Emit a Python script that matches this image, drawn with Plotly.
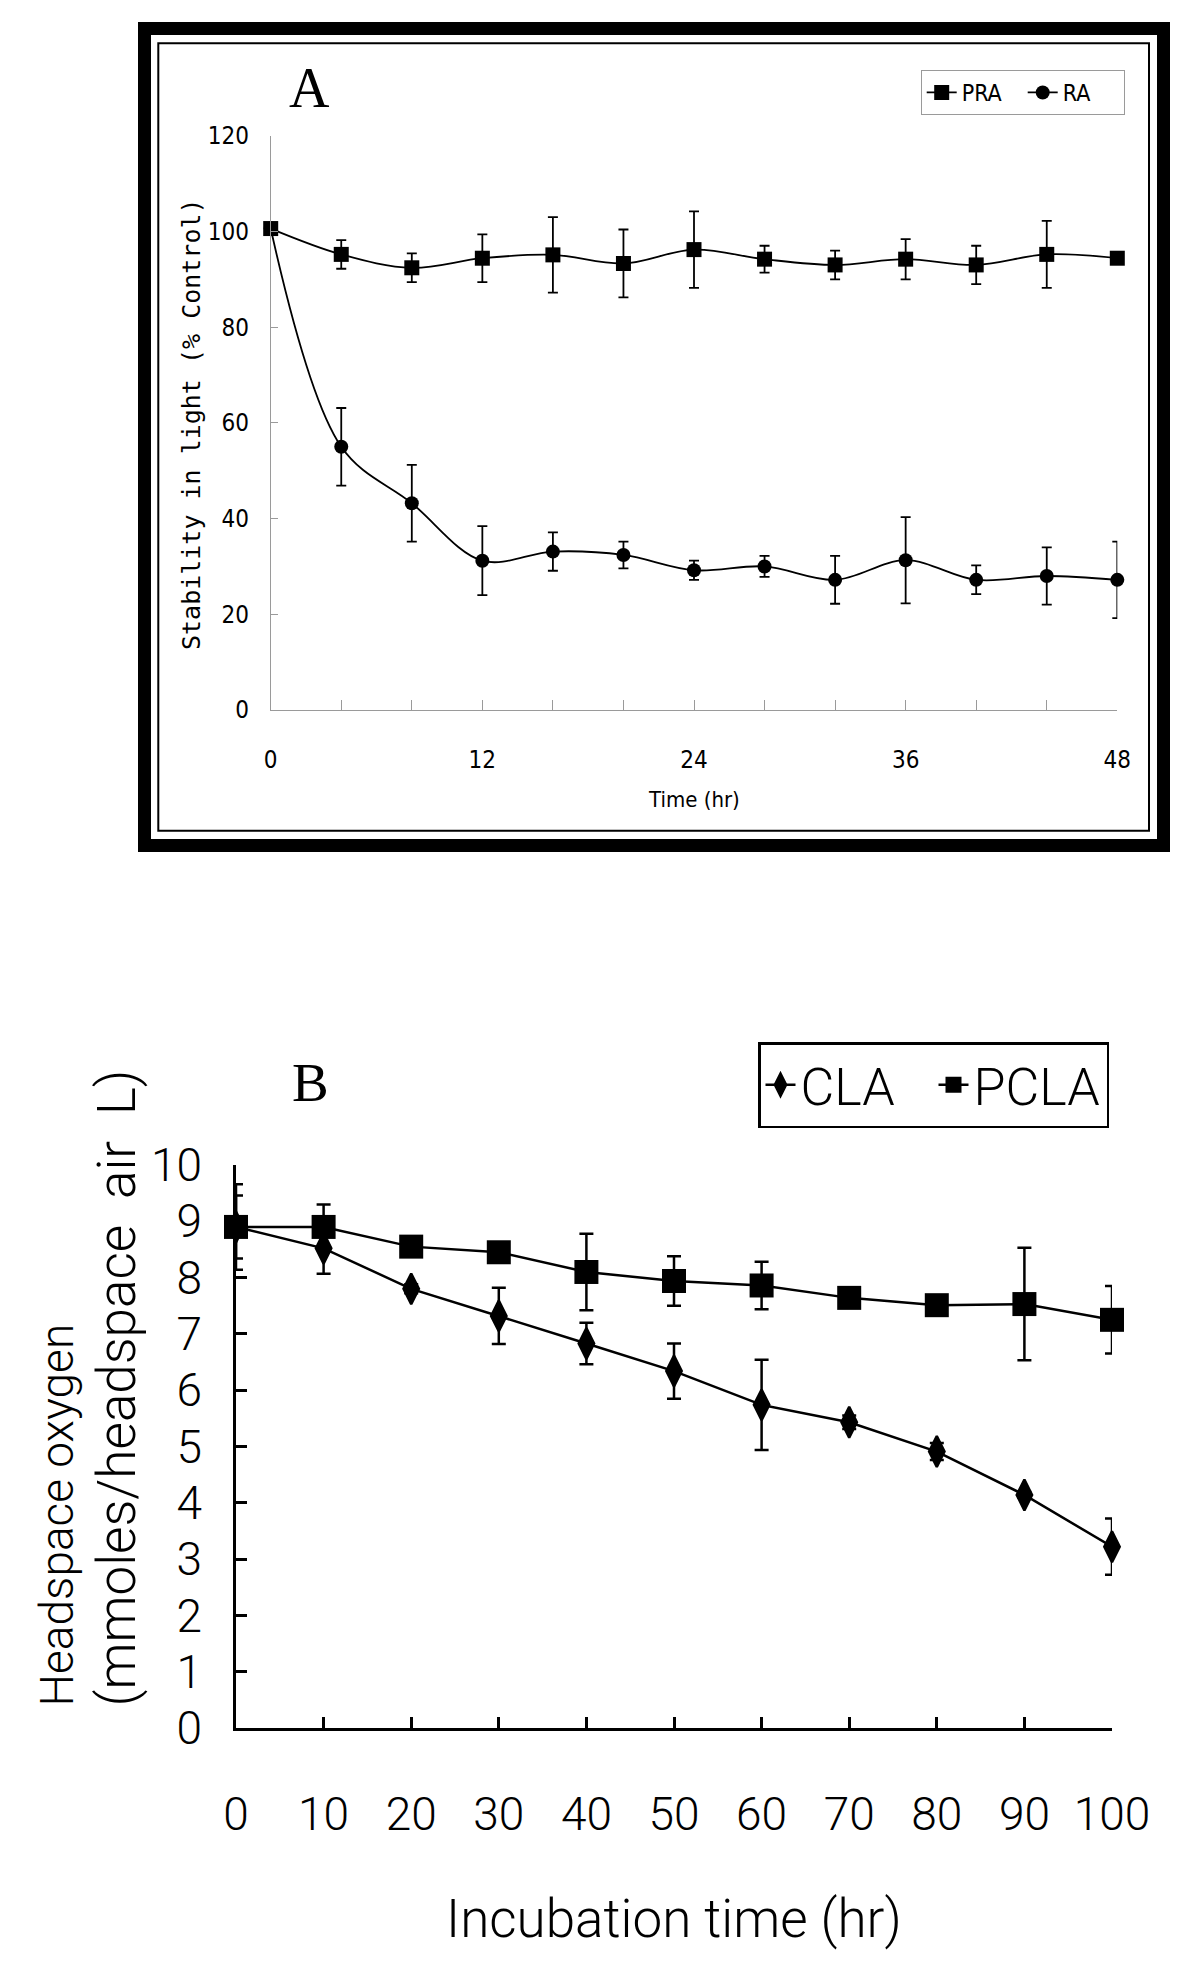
import plotly.graph_objects as go

# ---------------- data: panel A ----------------
time_a = [0, 4, 8, 12, 16, 20, 24, 28, 32, 36, 40, 44, 48]
pra = [100.6, 95.2, 92.4, 94.4, 95.1, 93.3, 96.2, 94.2, 93.0, 94.2, 93.0, 95.2, 94.4]
pra_err = [0.5, 3.0, 3.0, 5.0, 7.9, 7.1, 8.0, 2.8, 3.0, 4.2, 4.0, 7.0, 0.5]
ra = [100.6, 55.0, 43.2, 31.2, 33.1, 32.4, 29.2, 30.0, 27.2, 31.3, 27.2, 28.0, 27.2]
ra_err = [0.0, 8.1, 8.0, 7.2, 4.0, 2.8, 2.0, 2.2, 5.0, 9.0, 3.0, 6.0, 8.0]
a_xticks = [0, 12, 24, 36, 48]

# ---------------- data: panel B ----------------
time_b = [0, 10, 20, 30, 40, 50, 60, 70, 80, 90, 100]
cla = [8.9, 8.52, 7.8, 7.32, 6.83, 6.34, 5.74, 5.43, 4.91, 4.14, 3.22]
cla_err = [0.56, 0.45, 0.08, 0.5, 0.37, 0.49, 0.8, 0.12, 0.15, 0.05, 0.5]
pcla = [8.9, 8.9, 8.55, 8.45, 8.1, 7.94, 7.86, 7.64, 7.51, 7.53, 7.25]
pcla_err = [0.76, 0.4, 0.05, 0.05, 0.68, 0.44, 0.42, 0.1, 0.05, 1.0, 0.6]

W, H = 1200, 1985
def px(x):
    return x / W
def py(y):
    return 1 - y / H

CONDENSED = "DejaVu Sans Condensed, Liberation Sans, sans-serif"
LIGHT = "Roboto, Liberation Sans, sans-serif"
MONO = "DejaVu Sans Mono, Liberation Mono, monospace"
SERIF = "Liberation Serif, Times New Roman, serif"
GRAY = "#9a9a9a"

fig = go.Figure()

fig.add_trace(go.Scatter(
    x=time_a, y=pra, name="PRA", mode="lines+markers",
    line=dict(shape="spline", color="black", width=1.8),
    marker=dict(symbol="square", size=15, color="black"),
    error_y=dict(type="data", array=pra_err, color="black", thickness=1.8, width=5),
    xaxis="x", yaxis="y", legend="legend", cliponaxis=False))
fig.add_trace(go.Scatter(
    x=time_a, y=ra, name="RA", mode="lines+markers",
    line=dict(shape="spline", color="black", width=1.8),
    marker=dict(symbol="circle", size=14, color="black"),
    error_y=dict(type="data", array=ra_err, color="black", thickness=1.8, width=5),
    xaxis="x", yaxis="y", legend="legend", cliponaxis=False))

fig.add_trace(go.Scatter(
    x=time_b, y=cla, name="CLA", mode="lines+markers",
    line=dict(color="black", width=2.5),
    marker=dict(symbol="diamond-tall", size=22, color="black", line=dict(color="black", width=2.5)),
    error_y=dict(type="data", array=cla_err, color="black", thickness=2.5, width=7),
    xaxis="x2", yaxis="y2", legend="legend2", cliponaxis=False))
fig.add_trace(go.Scatter(
    x=time_b, y=pcla, name="PCLA", mode="lines+markers",
    line=dict(color="black", width=2.5),
    marker=dict(symbol="square", size=24, color="black"),
    error_y=dict(type="data", array=pcla_err, color="black", thickness=2.5, width=7),
    xaxis="x2", yaxis="y2", legend="legend2", cliponaxis=False))

fig.update_layout(
    width=W, height=H, autosize=False,
    margin=dict(l=0, r=0, t=0, b=0, pad=0, autoexpand=False),
    paper_bgcolor="white", plot_bgcolor="white",
    xaxis=dict(domain=[px(270.7), px(1117.3)], range=[0, 48], anchor="y", automargin=False,
               showline=True, linecolor=GRAY, linewidth=1, mirror=False,
               ticks="inside", ticklen=10, tickcolor=GRAY, tickwidth=1,
               tickmode="array", tickvals=a_xticks,
               minor=dict(ticks="inside", ticklen=10, tickcolor=GRAY, tickwidth=1, dtick=4, tick0=0),
               showgrid=False, zeroline=False,
               tickfont=dict(family=CONDENSED, size=24, color="black"),
               ticklabelstandoff=28),
    yaxis=dict(domain=[py(710), py(135.7)], range=[0, 120], anchor="x", automargin=False,
               showline=True, linecolor=GRAY, linewidth=1,
               ticks="inside", ticklen=7, tickcolor=GRAY, tickwidth=1,
               dtick=20, tick0=0, showgrid=False, zeroline=False,
               tickfont=dict(family=CONDENSED, size=24, color="black"),
               ticklabelstandoff=16),
    xaxis2=dict(domain=[px(236), px(1112)], range=[0, 100], anchor="y2", automargin=False,
                showline=True, linecolor="black", linewidth=2.5,
                ticks="inside", ticklen=11, tickcolor="black", tickwidth=2.5,
                dtick=10, tick0=0, showgrid=False, zeroline=False,
                tickfont=dict(family=LIGHT, size=46, color="black", weight=300),
                ticklabelstandoff=44),
    yaxis2=dict(domain=[py(1728), py(1165)], range=[0, 10], anchor="x2", automargin=False,
                showline=True, linecolor="black", linewidth=2.5,
                ticks="inside", ticklen=11, tickcolor="black", tickwidth=2.5,
                dtick=1, tick0=0, showgrid=False, zeroline=False,
                tickfont=dict(family=LIGHT, size=46, color="black", weight=300),
                ticklabelstandoff=22),
    legend=dict(orientation="h", x=px(920.7), y=py(70), xanchor="left", yanchor="top",
                bgcolor="white", bordercolor=GRAY, borderwidth=1,
                font=dict(family=CONDENSED, size=23, color="black"),
                itemsizing="trace", entrywidth=56, entrywidthmode="pixels"),
    legend2=dict(orientation="h", x=px(758), y=py(1042), xanchor="left", yanchor="top",
                 bgcolor="white", bordercolor="black", borderwidth=2.5,
                 font=dict(family=LIGHT, size=52, color="black", weight=300),
                 itemsizing="trace", entrywidth=128, entrywidthmode="pixels"),
    showlegend=True,
)

shapes = [
    dict(type="rect", xref="paper", yref="paper",
         x0=px(144.5), x1=px(1163.5), y0=py(845.5), y1=py(28.5),
         line=dict(color="black", width=13), fillcolor="rgba(0,0,0,0)", layer="above"),
    dict(type="rect", xref="paper", yref="paper",
         x0=px(158.3), x1=px(1149), y0=py(830.7), y1=py(43.3),
         line=dict(color="black", width=2), fillcolor="rgba(0,0,0,0)", layer="above"),
]
fig.update_layout(shapes=shapes)

annotations = [
    dict(text="A", x=px(309.5), y=py(87.5), xref="paper", yref="paper",
         xanchor="center", yanchor="middle", showarrow=False,
         font=dict(family=SERIF, size=56, color="black")),
    dict(text="Time (hr)", x=px(694), y=py(800), xref="paper", yref="paper",
         xanchor="center", yanchor="middle", showarrow=False,
         font=dict(family=CONDENSED, size=22, color="black")),
    dict(text="Stability in light (% Control)", x=px(192), y=py(424), xref="paper", yref="paper",
         xanchor="center", yanchor="middle", showarrow=False, textangle=-90,
         font=dict(family=MONO, size=25, color="black")),
    dict(text="B", x=px(310), y=py(1082), xref="paper", yref="paper",
         xanchor="center", yanchor="middle", showarrow=False,
         font=dict(family=SERIF, size=55, color="black")),
    dict(text="Incubation time (hr)", x=px(674), y=py(1919), xref="paper", yref="paper",
         xanchor="center", yanchor="middle", showarrow=False,
         font=dict(family=LIGHT, size=53, color="black", weight=300)),
    dict(text="Headspace oxygen", x=px(56), y=py(1709), xref="paper", yref="paper",
         xanchor="center", yanchor="bottom", showarrow=False, textangle=-90,
         font=dict(family=LIGHT, size=46, color="black", weight=300)),
    dict(text="(mmoles/headspace  air  L)", x=px(116), y=py(1709), xref="paper", yref="paper",
         xanchor="center", yanchor="bottom", showarrow=False, textangle=-90,
         font=dict(family=LIGHT, size=53, color="black", weight=300)),
]
fig.update_layout(annotations=annotations)

fig.write_html("out.html", config={"displayModeBar": False},
               post_script="document.body.style.margin='0';document.body.style.overflow='hidden';")
